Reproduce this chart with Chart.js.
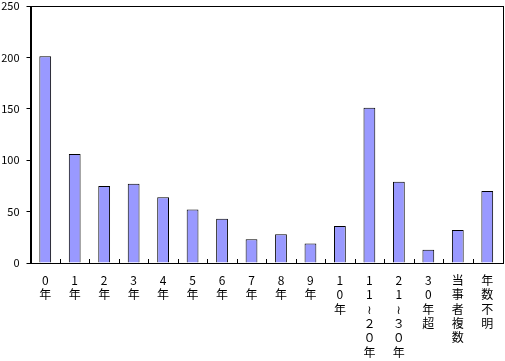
<!DOCTYPE html>
<html>
<head>
<meta charset="utf-8">
<script src="https://cdn.jsdelivr.net/npm/chart.js@4/dist/chart.umd.min.js"></script>
<style>
  html, body { margin: 0; padding: 0; background: #ffffff; }
  #wrap { width: 505px; height: 361px; position: relative; }
</style>
</head>
<body>
<div id="wrap"><canvas id="c" width="505" height="361"></canvas></div>
<script>
const categories = [
  ['0','年'], ['1','年'], ['2','年'], ['3','年'], ['4','年'], ['5','年'],
  ['6','年'], ['7','年'], ['8','年'], ['9','年'], ['1','0','年'],
  ['1','1','≀','２','０','年'], ['2','1','≀','３','０','年'],
  ['3','0','年','超'], ['当','事','者','複','数'], ['年','数','不','明']
];
const counts = [201, 106, 75, 77, 64, 52, 43, 23, 28, 19, 36, 151, 79, 13, 32, 70];
const yTicks = [0, 50, 100, 150, 200, 250];

const FONT = '"Noto Sans CJK JP", "DejaVu Sans", sans-serif';

const framePlugin = {
  id: 'frame',
  afterDraw(chart) {
    const { ctx, chartArea: a } = chart;
    const xs = chart.scales.x;
    ctx.save();
    ctx.strokeStyle = '#000';
    ctx.lineWidth = 1;
    ctx.strokeRect(Math.round(a.left) + 0.5, Math.round(a.top) + 0.5,
                   Math.round(a.right - a.left), Math.round(a.bottom - a.top));
    const n = categories.length;
    ctx.beginPath();
    for (let i = 1; i < n; i++) {
      const x = Math.round(xs.getPixelForDecimal(i / n)) + 0.5;
      ctx.moveTo(x, Math.round(a.bottom));
      ctx.lineTo(x, Math.round(a.bottom) - 4);
    }
    ctx.stroke();
    ctx.restore();
  }
};

new Chart(document.getElementById('c'), {
  type: 'bar',
  data: {
    labels: categories,
    datasets: [{
      data: counts,
      backgroundColor: '#9999FF',
      borderColor: '#000000',
      borderWidth: 1,
      barPercentage: 0.4,
      categoryPercentage: 1.0
    }]
  },
  options: {
    responsive: false,
    animation: false,
    layout: { padding: { top: 6, right: 3, left: 0, bottom: 0 } },
    plugins: { legend: { display: false }, tooltip: { enabled: false } },
    scales: {
      x: {
        grid: { display: false },
        border: { color: '#000', width: 1 },
        ticks: {
          color: '#000',
          font: { family: FONT, size: 12, lineHeight: 1.2 },
          padding: 2,
          maxRotation: 0,
          autoSkip: false
        },
        afterFit(scale) { scale.height = 98; scale.paddingLeft = 0; scale.paddingRight = 0; }
      },
      y: {
        min: 0, max: 250,
        afterBuildTicks(scale) { scale.ticks = yTicks.map(v => ({ value: v })); },
        grid: { drawOnChartArea: false, drawTicks: true, tickLength: 4, color: '#000' },
        border: { color: '#000', width: 1 },
        ticks: {
          color: '#000',
          font: { family: FONT, size: 11, lineHeight: 1.0 },
          padding: 7
        },
        afterFit(scale) { scale.width = 30.5; scale.paddingTop = 0; scale.paddingBottom = 0; }
      }
    }
  },
  plugins: [framePlugin]
});
</script>
</body>
</html>
